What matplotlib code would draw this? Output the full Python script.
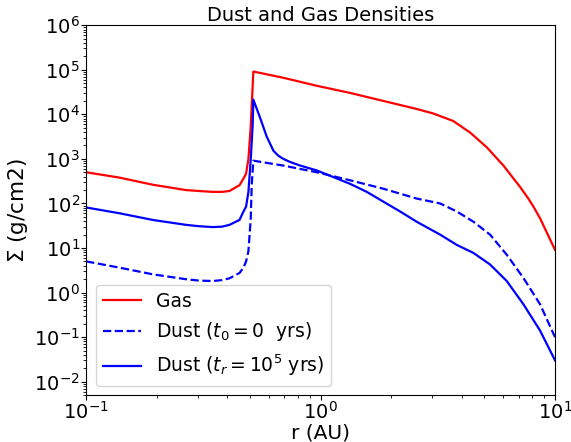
import numpy as np
import matplotlib
matplotlib.use("Agg")
import matplotlib.pyplot as plt

# readings from the figure, as log10(r / AU) and log10(Sigma / g cm^-2)
logr_gas = [-1.0, -0.858, -0.716, -0.574, -0.52, -0.46, -0.42, -0.389, -0.346, -0.329,
            -0.318, -0.308, -0.298, -0.287, -0.159, -0.016, 0.126, 0.268, 0.41, 0.48,
            0.566, 0.638, 0.709, 0.78, 0.851, 0.886, 0.908, 0.936, 1.0]
logs_gas = [2.70, 2.58, 2.42, 2.30, 2.28, 2.26, 2.26, 2.28, 2.41, 2.56,
            2.67, 3.00, 3.74, 4.96, 4.82, 4.64, 4.48, 4.30, 4.12, 4.02,
            3.85, 3.59, 3.26, 2.85, 2.37, 2.11, 1.93, 1.67, 0.96]

logr_t0 = [-1.0, -0.858, -0.716, -0.574, -0.52, -0.46, -0.42, -0.389, -0.346, -0.329,
           -0.318, -0.308, -0.298, -0.294, -0.287, -0.159, -0.016, 0.126, 0.268, 0.41,
           0.51, 0.581, 0.652, 0.723, 0.794, 0.865, 0.936, 1.0]
logs_t0 = [0.70, 0.56, 0.41, 0.30, 0.27, 0.26, 0.28, 0.32, 0.44, 0.56,
           0.70, 0.93, 1.67, 2.41, 2.96, 2.85, 2.70, 2.52, 2.33, 2.11,
           2.00, 1.82, 1.59, 1.30, 0.85, 0.33, -0.26, -1.00]

logr_tr = [-1.0, -0.858, -0.716, -0.574, -0.52, -0.46, -0.42, -0.389, -0.346, -0.329,
           -0.318, -0.308, -0.298, -0.29, -0.287, -0.258, -0.23, -0.201, -0.18, -0.159,
           -0.13, -0.087, -0.016, 0.055, 0.126, 0.197, 0.268, 0.339, 0.41, 0.51,
           0.581, 0.652, 0.723, 0.794, 0.865, 0.936, 1.0]
logs_tr = [1.91, 1.78, 1.63, 1.52, 1.49, 1.47, 1.48, 1.52, 1.63, 1.82,
           1.93, 2.26, 3.00, 3.74, 4.33, 3.92, 3.50, 3.18, 3.07, 3.00,
           2.93, 2.85, 2.74, 2.59, 2.44, 2.26, 2.04, 1.82, 1.59, 1.30,
           1.07, 0.89, 0.63, 0.26, -0.26, -0.85, -1.52]


def to_linear(logr, logs):
    return np.power(10.0, logr), np.power(10.0, logs)


fig, ax = plt.subplots(figsize=(5.71, 4.42), dpi=100)
fig.subplots_adjust(left=0.151, right=0.972, top=0.943, bottom=0.106)

r, s = to_linear(logr_gas, logs_gas)
ax.loglog(r, s, "r-", lw=1.6, label="Gas")
r, s = to_linear(logr_t0, logs_t0)
ax.loglog(r, s, "b--", lw=1.6, label=r"Dust ($t_0 = 0$  yrs)")
r, s = to_linear(logr_tr, logs_tr)
ax.loglog(r, s, "b-", lw=1.6, label=r"Dust ($t_r = 10^5$ yrs)")

ax.set_xlim(0.1, 10)
ax.set_ylim(5e-3, 1e6)
ax.tick_params(axis="both", which="major", labelsize=14, pad=1)
ax.set_xlabel("r (AU)", fontsize=14.5, labelpad=0)
ax.set_ylabel(r"$\Sigma$ (g/cm2)", fontsize=15.5, labelpad=3)
ax.set_title("Dust and Gas Densities", fontsize=14, pad=3)
ax.legend(loc="lower left", fontsize=13.5)

fig.savefig("out.png", dpi=100)
